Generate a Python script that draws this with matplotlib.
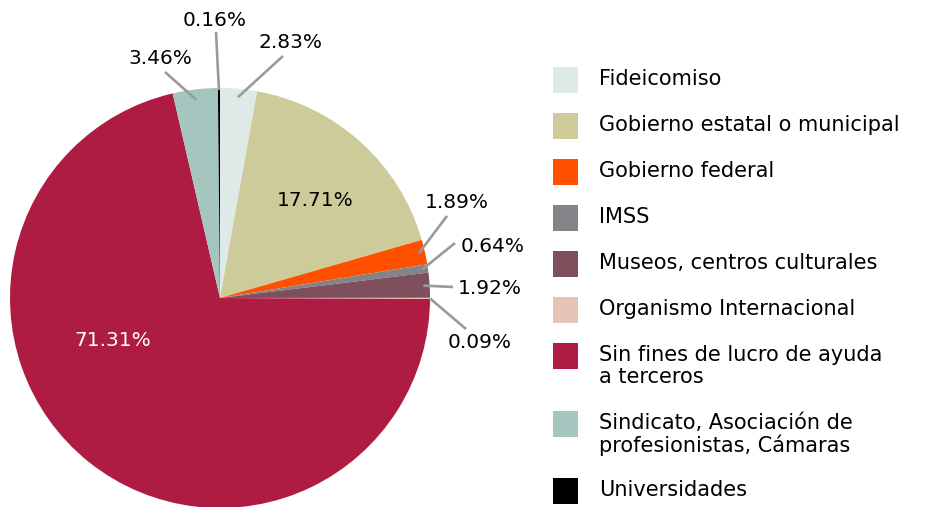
import numpy as np
import matplotlib
matplotlib.use("Agg")
import matplotlib.pyplot as plt
from matplotlib.patches import Rectangle

categories = ["Fideicomiso", "Gobierno estatal o municipal", "Gobierno federal", "IMSS",
              "Museos, centros culturales", "Organismo Internacional",
              "Sin fines de lucro de ayuda\na terceros",
              "Sindicato, Asociación de\nprofesionistas, Cámaras", "Universidades"]
values = [2.83, 17.71, 1.89, 0.64, 1.92, 0.09, 71.31, 3.46, 0.16]
labels = ["2.83%", "17.71%", "1.89%", "0.64%", "1.92%", "0.09%", "71.31%", "3.46%", "0.16%"]
colors = ["#dfeae8", "#cdcb9a", "#ff5000", "#838388", "#7f4f5c", "#e4c4b6",
          "#ae1c44", "#a4c6bf", "#000000"]

plt.rcParams['font.family'] = ['DejaVu Sans']
W, H = 927, 507
fig = plt.figure(figsize=(W / 100, H / 100), dpi=100)

# pie centre (220, 298) px, radius 210 px
cx, cy, R = 220, 298, 210
ax = fig.add_axes([(cx - R) / W, (H - cy - R) / H, 2 * R / W, 2 * R / H])
wedges, _ = ax.pie(values, colors=colors, startangle=90, counterclock=False,
                   radius=1, wedgeprops=dict(linewidth=0))
ax.set_xlim(-1, 1)
ax.set_ylim(-1, 1)
ax.set_aspect('equal')
ax.axis('off')

def px(x, y):
    return ((x - cx) / R, (cy - y) / R)

# label placement (pixel coords of text centre)
label_pos = {
    0: (290, 42), 2: (457, 202), 3: (493, 246), 4: (490, 289),
    5: (480, 342), 7: (160, 58), 8: (215, 20),
}
line_end = {
    0: (283, 56), 2: (447, 216), 3: (455, 243), 4: (453, 287),
    5: (466, 329), 7: (165, 72), 8: (216, 32),
}
line_r = {0: 0.96, 2: 0.97, 3: 0.975, 4: 0.97, 5: 1.0, 7: 0.95, 8: 0.99}
inside = {1: ((315, 201), "black"), 6: ((113, 341), "white")}

for i, w in enumerate(wedges):
    mid = np.deg2rad((w.theta1 + w.theta2) / 2)
    if i in inside:
        (tx, ty), c = inside[i]
        ax.text(*px(tx, ty), labels[i], ha='center', va='center', fontsize=14.5, color=c)
        continue
    r = line_r[i]
    sx, sy = r * np.cos(mid), r * np.sin(mid)
    ex, ey = px(*line_end[i])
    ax.plot([sx, ex], [sy, ey], color="#9a9a9a", lw=1.9, clip_on=False,
            solid_capstyle='butt')
    ax.text(*px(*label_pos[i]), labels[i], ha='center', va='center', fontsize=14.5,
            color='black', clip_on=False)

# legend drawn by hand
legend_y = [80, 126, 172, 218, 264, 310, 356, 424, 491]
for name, c, y in zip(categories, colors, legend_y):
    fig.add_artist(Rectangle((553 / W, (H - y - 13) / H), 25 / W, 26 / H,
                             transform=fig.transFigure, color=c, lw=0))
    fig.text(599 / W, (H - y + 11) / H, name, ha='left', va='top', fontsize=15,
             color='black', linespacing=1.1)

fig.savefig("out.png", dpi=100)
